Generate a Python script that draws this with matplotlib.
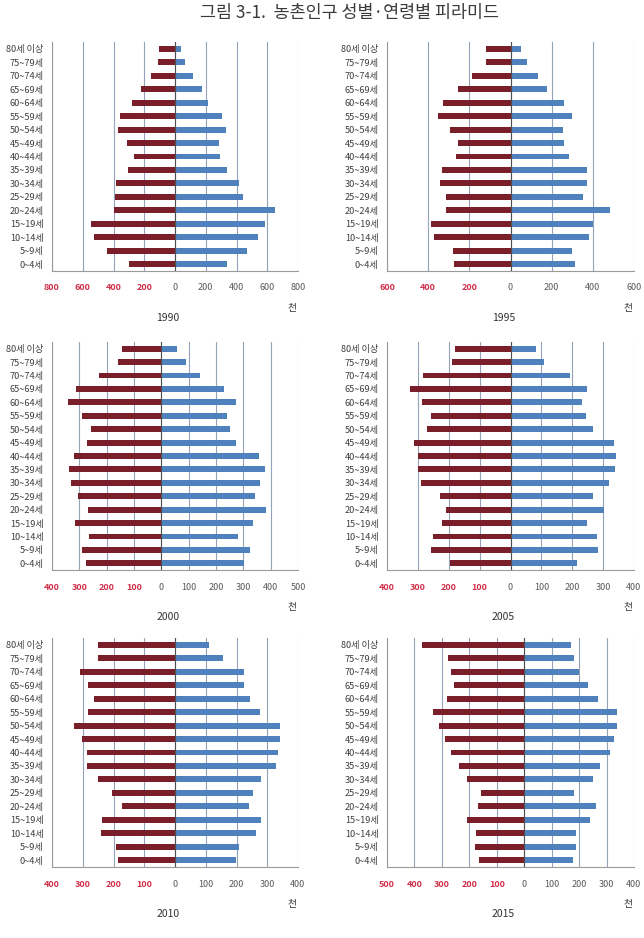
import matplotlib
matplotlib.use('Agg')
import matplotlib.pyplot as plt
import numpy as np

plt.rcParams['font.family'] = ['Noto Sans CJK KR', 'DejaVu Sans']

# ---------------- data (thousands) ----------------
ages = ['80세 이상', '75~79세', '70~74세', '65~69세', '60~64세', '55~59세',
        '50~54세', '45~49세', '40~44세', '35~39세', '30~34세', '25~29세',
        '20~24세', '15~19세', '10~14세', '5~9세', '0~4세']

years = ['1990', '1995', '2000', '2005', '2010', '2015']

left_1990 = [104, 110, 156, 223, 281, 355, 372, 311, 268, 307, 385, 389, 394, 547, 530, 443, 300]
right_1990 = [41, 67, 119, 177, 216, 303, 333, 285, 292, 335, 417, 441, 651, 584, 538, 467, 337]

left_1995 = [120, 120, 189, 254, 327, 351, 293, 254, 267, 332, 341, 312, 315, 384, 374, 280, 276]
right_1995 = [50, 80, 133, 179, 260, 298, 257, 260, 286, 374, 374, 353, 483, 400, 382, 301, 314]

left_2000 = [144, 160, 229, 313, 343, 291, 259, 271, 318, 339, 329, 305, 268, 316, 263, 289, 277]
right_2000 = [59, 91, 143, 228, 272, 240, 250, 274, 356, 380, 360, 344, 382, 337, 280, 324, 301]

left_2005 = [181, 190, 283, 325, 286, 259, 272, 312, 299, 298, 289, 229, 208, 222, 251, 259, 197]
right_2005 = [82, 110, 193, 247, 232, 244, 268, 334, 343, 339, 319, 268, 302, 247, 280, 283, 215]

left_2010 = [252, 252, 308, 282, 263, 282, 328, 304, 286, 286, 249, 204, 172, 238, 240, 192, 184]
right_2010 = [111, 155, 223, 223, 244, 275, 341, 341, 336, 328, 279, 254, 242, 279, 264, 209, 198]

left_2015 = [373, 279, 267, 256, 282, 334, 311, 289, 267, 238, 207, 157, 168, 209, 174, 180, 166]
right_2015 = [171, 183, 201, 232, 268, 339, 339, 327, 311, 276, 250, 180, 261, 239, 188, 190, 178]

left_series = [left_1990, left_1995, left_2000, left_2005, left_2010, left_2015]
right_series = [right_1990, right_1995, right_2000, right_2005, right_2010, right_2015]

# axis ranges (min, max, step)
axis_ranges = [(-800, 800, 200), (-600, 600, 200), (-400, 500, 100),
               (-400, 400, 100), (-400, 400, 100), (-500, 400, 100)]

title = '그림 3-1.  농촌인구 성별·연령별 피라미드'
unit = '천'

# ---------------- layout ----------------
W, H = 644, 938
fig = plt.figure(figsize=(W / 100, H / 100), dpi=100)
fig.patch.set_facecolor('white')

cols = [(52, 298), (387, 634)]
rows = [(42, 271), (342, 570), (638, 867)]

RED = '#7A1E2A'
BLUE = '#4F81BD'
GRID = '#93A3BA'
NEG_TXT = '#D0304A'
POS_TXT = '#595959'

fig.text(349 / W, 1 - 13 / H, title, ha='center', va='center', fontsize=12.5,
         color='#3a3a3a', fontweight='light')

for i, yr in enumerate(years):
    r, c = divmod(i, 2)
    l, rr = cols[c]
    t, b = rows[r]
    ax = fig.add_axes([l / W, 1 - b / H, (rr - l) / W, (b - t) / H])
    ypos = np.arange(len(ages))
    lv = np.array(left_series[i])
    rv = np.array(right_series[i])
    ax.barh(ypos, -lv, height=0.44, color=RED, zorder=3)
    ax.barh(ypos, rv, height=0.44, color=BLUE, zorder=3)
    xmin, xmax, step = axis_ranges[i]
    ax.set_xlim(xmin, xmax)
    ax.set_ylim(len(ages) - 0.5, -0.5)
    ticks = np.arange(xmin, xmax + 1, step)
    ax.set_xticks(ticks)
    ax.set_xticklabels([str(abs(int(v))) for v in ticks], fontsize=6.5)
    for lab, v in zip(ax.get_xticklabels(), ticks):
        if v < 0:
            lab.set_color(NEG_TXT)
            lab.set_fontweight('bold')
        else:
            lab.set_color(POS_TXT)
    ax.set_yticks(ypos)
    ax.set_yticklabels(ages, fontsize=6.6, color='#404040')
    ax.tick_params(axis='both', length=0)
    ax.tick_params(axis='x', pad=9)
    ax.tick_params(axis='y', pad=6)
    ax.grid(axis='x', color=GRID, lw=0.8, zorder=0)
    ax.grid(axis='y', visible=False)
    ax.axvline(0, color='#505050', lw=0.8, zorder=4)
    for s in ['top', 'right']:
        ax.spines[s].set_visible(False)
    for s in ['left', 'bottom']:
        ax.spines[s].set_color('#9A9A9A')
        ax.spines[s].set_linewidth(0.8)
    fig.text((rr - 6) / W, 1 - (b + 37) / H, unit, ha='center', va='center',
             fontsize=7, color='#333333')
    fig.text(((l + rr) / 2 - 7) / W, 1 - (b + 47) / H, yr, ha='center',
             va='center', fontsize=7.5, color='#333333')

fig.savefig('out.png', dpi=100, facecolor='white')
